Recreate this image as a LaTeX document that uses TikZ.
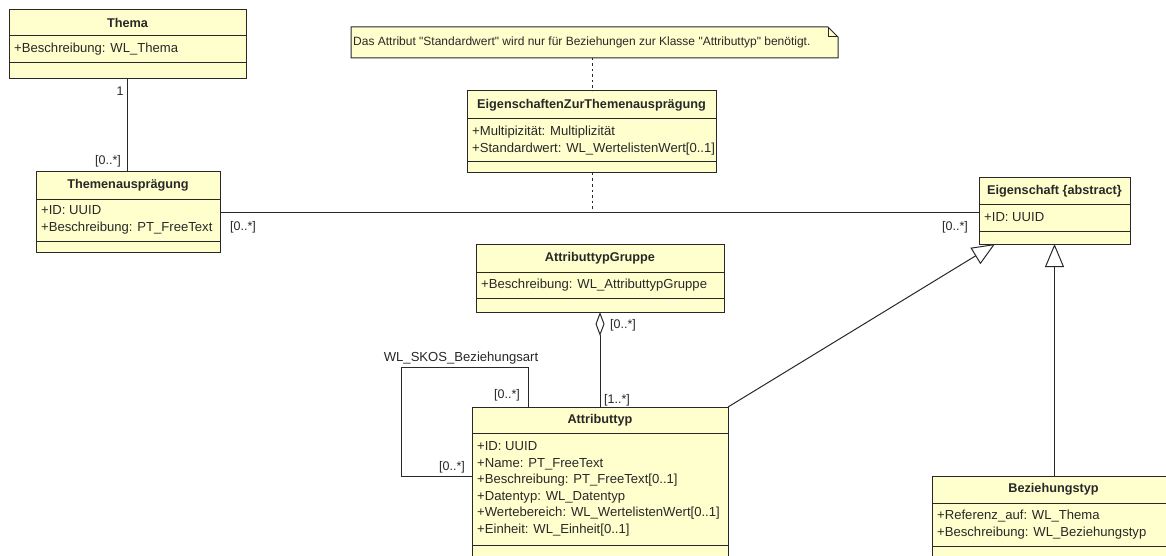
\documentclass[tikz,border=0pt]{standalone}
\usepackage{fontspec}
\setmainfont{Liberation Sans}[Ligatures=TeXOff]
\usetikzlibrary{arrows.meta}
\definecolor{classfill}{RGB}{255,255,206}
\definecolor{ink}{RGB}{40,40,40}
\tikzset{
  umlline/.style={draw=ink, line width=1pt},
  classbox/.style={rectangle, draw=ink, line width=1pt, fill=classfill, inner sep=0pt, outer sep=0pt},
  titletext/.style={font=\fontsize{12.7}{16}\selectfont\bfseries, text=ink, inner sep=0pt},
  attrtext/.style={font=\fontsize{13.1}{16.5}\selectfont, text=ink, align=left, inner sep=0pt},
  multtext/.style={font=\fontsize{12.5}{14}\selectfont, text=ink, inner sep=0pt},
  notetext/.style={font=\fontsize{12}{14}\selectfont, text=ink, inner sep=0pt},
  dotline/.style={draw=ink, line width=1pt, dash pattern=on 2.5pt off 3pt},
  gen/.style={umlline, -{Triangle[open, length=23pt, width=19pt, line width=1pt]}},
  agg/.style={umlline, {Diamond[open, length=24pt, width=9pt, line width=1pt]}-},
}
% name, x1, y1, x2, y2, header bottom, attributes bottom, title, attributes
\newcommand{\umlclass}[9]{%
  \node[classbox, anchor=north west, minimum width={(#4-#2)*1pt}, minimum height={(#5-#3)*1pt}] (#1) at (#2,#3) {};
  \draw[umlline] (#2,#6) -- (#4,#6);
  \draw[umlline] (#2,#7) -- (#4,#7);
  \node[titletext] (#1-title) at ({(#2+#4)/2},{(#3+#6)/2}) {#8};
  \node[attrtext, anchor=west] (#1-attrs) at ({#2+5},{(#6+#7)/2}) {#9};
}
\begin{document}
\begin{tikzpicture}[x=1pt,y=-1pt]
\useasboundingbox (0,0) rectangle (1166,556);
\clip (0,0) rectangle (1166,556);
\fill[white] (0,0) rectangle (1166,556);

% classes
\umlclass{thema}{9}{10}{246}{79}{36}{63}{Thema}{+Beschreibung: WL\_Thema}
\umlclass{themen}{36}{172}{220}{252}{199}{241}{Themenausprägung}{+ID: UUID\\+Beschreibung: PT\_FreeText}
\umlclass{ezt}{467}{91}{716}{173}{119}{162}{EigenschaftenZurThemenausprägung}{+Multipizität: Multiplizität\\+Standardwert: WL\_WertelistenWert[0..1]}
\umlclass{eig}{979}{178}{1130}{244}{204}{231}{Eigenschaft \{abstract\}}{+ID: UUID}
\umlclass{gruppe}{476}{244}{724}{312}{272}{298}{AttributtypGruppe}{+Beschreibung: WL\_AttributtypGruppe}
\umlclass{attr}{472}{407}{728}{590}{433}{545}{Attributtyp}{+ID: UUID\\+Name: PT\_FreeText\\+Beschreibung: PT\_FreeText[0..1]\\+Datentyp: WL\_Datentyp\\+Wertebereich: WL\_WertelistenWert[0..1]\\+Einheit: WL\_Einheit[0..1]}
\umlclass{bez}{932}{476}{1175}{590}{503}{546}{Beziehungstyp}{+Referenz\_auf: WL\_Thema\\+Beschreibung: WL\_Beziehungstyp}

% note
\path[fill=classfill, draw=ink, line width=1pt] (351,27) -- (828,27) -- (838,37) -- (838,58) -- (351,58) -- cycle;
\draw[umlline] (828,27) -- (828,37) -- (838,37);
\node[notetext, anchor=west] (note) at (353,42.5) {Das Attribut "Standardwert" wird nur für Beziehungen zur Klasse "Attributtyp" benötigt.};
\coordinate (notebottom) at (592,58);

% associations
\draw[umlline] (thema.south) -- (thema.south |- themen.north);
\draw[umlline] (themen.east) -- (eig.west |- themen.east);
\coordinate (assocmid) at (592,212);
\draw[dotline] (notebottom) -- (notebottom |- ezt.north);
\draw[dotline] (ezt.south -| assocmid) -- (assocmid);

% aggregation
\draw[agg] (gruppe.south) -- (attr.north);

% self association
\coordinate (loopcorner) at (401,367);
\draw[umlline] ([xshift=56pt]attr.north west) |- (loopcorner) |- ([yshift=-69pt]attr.north west);

% generalizations
\draw[gen] (attr.north east) -- ([xshift=16pt]eig.south west);
\draw[gen] (bez.north -| eig.south) -- (eig.south);

% multiplicities
\node[multtext] (m1) at (120,91) {1};
\node[multtext] (m2) at (108,161) {[0..*]};
\node[multtext] (m3) at (243,227) {[0..*]};
\node[multtext] (m4) at (955,227) {[0..*]};
\node[multtext] (m5) at (623,325) {[0..*]};
\node[multtext] (m6) at (617,400) {[1..*]};
\node[multtext] (m7) at (507,395) {[0..*]};
\node[multtext] (m8) at (452,467) {[0..*]};
\node[attrtext] (loopname) at (461,358) {WL\_SKOS\_Beziehungsart};
\end{tikzpicture}
\end{document}
